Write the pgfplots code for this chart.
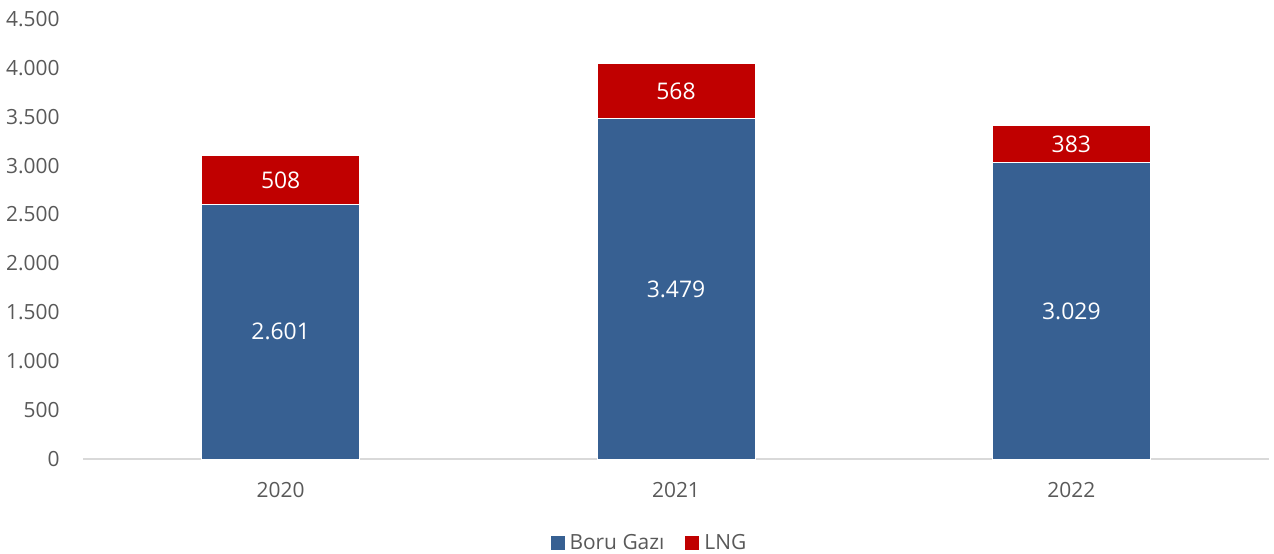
\documentclass[border=0pt]{standalone}
\usepackage{fontspec}
\setmainfont{Open Sans}
\usepackage{pgfplots}
\pgfplotsset{compat=1.18}

\definecolor{boru}{RGB}{55,96,146}
\definecolor{lng}{RGB}{192,0,0}
\definecolor{txt}{RGB}{89,89,89}
\definecolor{axl}{RGB}{217,217,217}

\begin{document}
\begin{tikzpicture}
\pgfplotsset{
  base/.style={
    scale only axis,
    width=593bp, height=220bp,
    xmin=-0.5, xmax=2.5,
    ymin=0, ymax=4500,
  }
}
\begin{axis}[
  base,
  ybar stacked,
  bar width=79bp,
  axis x line*=bottom,
  axis y line*=left,
  y axis line style={draw=none},
  x axis line style={draw=axl, line width=0.75bp, -},
  major tick length=0pt,
  xtick={0,1,2},
  xticklabels={2020,2021,2022},
  ytick={0,500,...,4500},
  /pgf/number format/assume math mode=true,
  /pgf/number format/1000 sep={.},
  yticklabel style={font=\fontsize{10.5}{12}\selectfont, text=txt, anchor=east, inner sep=0pt, xshift=-11.5bp},
  xticklabel style={font=\fontsize{10.5}{12}\selectfont, text=txt, anchor=center, yshift=-15.5bp},
  legend style={draw=none, at={(axis description cs:0.478,-0.191)}, anchor=center,
    font=\fontsize{10.5}{12}\selectfont, text=txt, legend columns=2,
    /tikz/every even column/.append style={column sep=8bp}},
  legend image code/.code={\fill[#1] (0bp,-3.75bp) rectangle (7.5bp,3.75bp);},
]
\addplot[fill=boru, draw=white, line width=0.5bp] coordinates {(0,2601) (1,3479) (2,3029)};
\addplot[fill=lng, draw=white, line width=0.5bp] coordinates {(0,508) (1,568) (2,383)};
\legend{Boru Gazı, LNG}
\end{axis}
\begin{axis}[
  base,
  hide axis,
]
\addplot[only marks, mark=none, nodes near coords, point meta=explicit symbolic,
  every node near coord/.append style={anchor=center, text=white, font=\fontsize{11.5}{13}\selectfont}]
  coordinates {(0,1300.5)[2.601] (1,1739.5)[3.479] (2,1514.5)[3.029]
               (0,2855)[508] (1,3763)[568] (2,3220.5)[383]};
\end{axis}
\pgfresetboundingbox
\useasboundingbox (-41.5bp,-47.5bp) rectangle (595.5bp,229.5bp);
\end{tikzpicture}
\end{document}
